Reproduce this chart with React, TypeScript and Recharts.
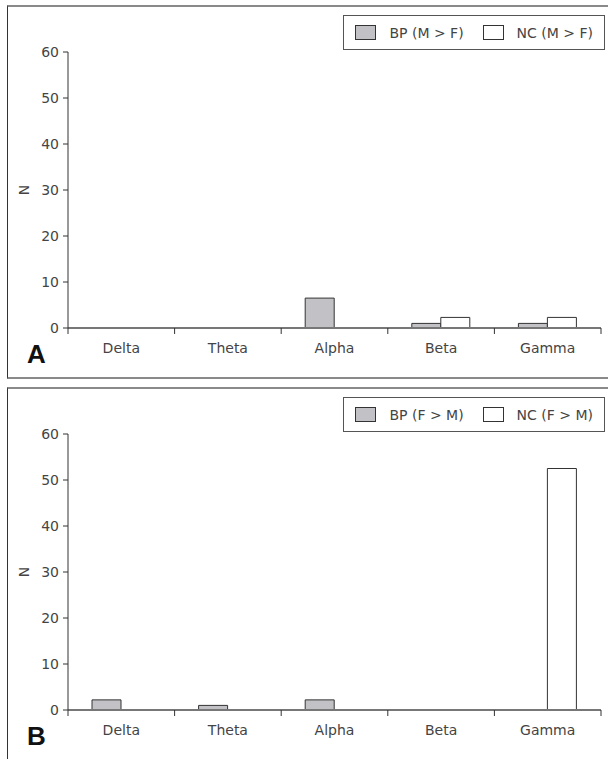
import { BarChart, Bar, XAxis, YAxis, Legend, Label, Text } from 'recharts';

const bands = ['Delta', 'Theta', 'Alpha', 'Beta', 'Gamma'];
const bpMaleGreater = [0, 0, 6.5, 1, 1];
const ncMaleGreater = [0, 0, 0, 2.3, 2.3];
const bpFemaleGreater = [2.2, 1, 2.2, 0, 0];
const ncFemaleGreater = [0, 0, 0, 0, 52.5];
const yTicks = [0, 10, 20, 30, 40, 50, 60];

const FONT = '"DejaVu Sans", sans-serif';
const TEXT = '#444';
const LINE = '#333';
const X_TICK_SIZE = 6;
const X_TICK_MARGIN = 9;

function LegendBox({ payload }: any) {
  return (
    <div
      style={{
        display: 'flex',
        alignItems: 'center',
        boxSizing: 'border-box',
        height: 35,
        border: '1px solid #555',
        background: '#fff',
        padding: '0 11px',
        fontFamily: FONT,
        fontSize: 14,
        color: TEXT,
        whiteSpace: 'nowrap',
      }}
    >
      {(payload || []).map((p: any, i: number) => (
        <div key={i} style={{ display: 'flex', alignItems: 'center', marginLeft: i ? 19 : 0 }}>
          <span
            style={{
              display: 'inline-block',
              width: 21,
              height: 15,
              boxSizing: 'border-box',
              border: `1px solid ${LINE}`,
              background: p.payload?.fill ?? p.color,
              marginRight: 13,
            }}
          />
          {p.value}
        </div>
      ))}
    </div>
  );
}

// label at the band centre, tick marks on the band edges
function BandTick(props: any) {
  const { x, y, payload, index, visibleTicksCount } = props;
  const half = payload?.offset ?? 0;
  const axisY = y - X_TICK_SIZE - X_TICK_MARGIN;
  const last = index === (visibleTicksCount ?? bands.length) - 1;
  return (
    <g>
      <line x1={x - half} x2={x - half} y1={axisY} y2={axisY + X_TICK_SIZE} stroke={LINE} />
      {last && <line x1={x + half} x2={x + half} y1={axisY} y2={axisY + X_TICK_SIZE} stroke={LINE} />}
      <text x={x} y={y} dy="0.71em" textAnchor="middle" fill={TEXT} fontSize={14} fontFamily={FONT}>
        {payload?.value}
      </text>
    </g>
  );
}

function Panel({
  letter,
  top,
  bp,
  nc,
  bpName,
  ncName,
}: {
  letter: string;
  top: number;
  bp: number[];
  nc: number[];
  bpName: string;
  ncName: string;
}) {
  const data = bands.map((b, i) => ({ band: b, bp: bp[i], nc: nc[i] }));
  return (
    <div
      style={{
        position: 'absolute',
        left: 7,
        top,
        width: 610,
        height: 370,
        borderTop: '2px solid #8a8a8a',
        borderBottom: '2px solid #8a8a8a',
        borderLeft: `1px solid ${LINE}`,
        background: '#fff',
      }}
    >
      <BarChart
        width={600}
        height={370}
        data={data}
        margin={{ top: 45, right: 7, bottom: 19, left: 0 }}
        barGap={0}
        barSize={29}
      >
        <XAxis
          dataKey="band"
          height={30}
          axisLine={{ stroke: '#777', strokeWidth: 2 }}
          tickLine={false}
          tickSize={X_TICK_SIZE}
          tickMargin={X_TICK_MARGIN}
          tick={BandTick}
          interval={0}
        />
        <YAxis
          width={60}
          domain={[0, 60]}
          ticks={yTicks}
          axisLine={{ stroke: LINE }}
          tickLine={{ stroke: LINE }}
          tickSize={5}
          tickMargin={4}
          tick={{ fill: TEXT, fontSize: 14, fontFamily: FONT }}
        >
          <Label
            content={({ viewBox }: any) => (
              <Text
                x={(viewBox?.x ?? 0) + 16}
                y={(viewBox?.y ?? 0) + (viewBox?.height ?? 0) / 2}
                angle={-90}
                textAnchor="middle"
                verticalAnchor="middle"
                fill={TEXT}
                fontSize={14}
                fontFamily={FONT}
              >
                N
              </Text>
            )}
          />
        </YAxis>
        <Legend
          verticalAlign="middle"
          align="center"
          content={<LegendBox />}
          wrapperStyle={{ top: 8, right: 3, left: 'auto', width: 'auto' }}
        />
        <Bar dataKey="bp" name={bpName} fill="#c2c2c6" stroke={LINE} strokeWidth={1} isAnimationActive={false} />
        <Bar dataKey="nc" name={ncName} fill="#ffffff" stroke={LINE} strokeWidth={1} isAnimationActive={false} />
      </BarChart>
      <div
        style={{
          position: 'absolute',
          left: 19,
          top: 332,
          fontFamily: '"Liberation Sans", Arial, sans-serif',
          fontWeight: 'bold',
          fontSize: 26,
          color: '#111',
        }}
      >
        {letter}
      </div>
    </div>
  );
}

export default function App() {
  return (
    <div style={{ position: 'absolute', left: 0, top: 0, width: 608, height: 759, overflow: 'hidden', background: '#fff' }}>
      <Panel letter="A" top={5} bp={bpMaleGreater} nc={ncMaleGreater} bpName="BP (M > F)" ncName="NC (M > F)" />
      <Panel letter="B" top={387} bp={bpFemaleGreater} nc={ncFemaleGreater} bpName="BP (F > M)" ncName="NC (F > M)" />
    </div>
  );
}
